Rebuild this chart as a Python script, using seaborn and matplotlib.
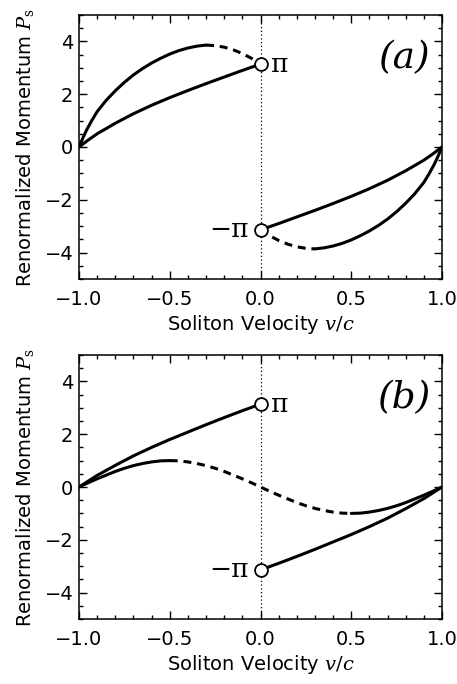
import matplotlib
matplotlib.use("Agg")
import matplotlib.pyplot as plt
import pandas as pd
import seaborn as sns
from matplotlib.ticker import MultipleLocator

# ---- data (v/c, P_s) ----
# panel (a)
a_line_left_v = [-1.0, -0.95, -0.9, -0.8, -0.7, -0.6, -0.5, -0.4, -0.3, -0.2, -0.1, 0.0]
a_line_left_p = [0.0, 0.26, 0.5, 0.9, 1.26, 1.58, 1.87, 2.14, 2.4, 2.65, 2.9, 3.14]
a_arc_left_v = [-1.0, -0.98, -0.96, -0.93, -0.9, -0.85, -0.8, -0.75, -0.7, -0.65, -0.6,
                -0.55, -0.5, -0.45, -0.4, -0.35, -0.3]
a_arc_left_p = [0.0, 0.32, 0.62, 1.0, 1.34, 1.77, 2.13, 2.45, 2.73, 2.97, 3.18,
                3.36, 3.52, 3.65, 3.75, 3.82, 3.86]
a_dash_left_v = [-0.3, -0.25, -0.2, -0.15, -0.1, -0.05, 0.0]
a_dash_left_p = [3.86, 3.84, 3.78, 3.68, 3.54, 3.36, 3.14]

a_line_right_v = [0.0, 0.1, 0.2, 0.3, 0.4, 0.5, 0.6, 0.7, 0.8, 0.9, 0.95, 1.0]
a_line_right_p = [-3.14, -2.9, -2.65, -2.4, -2.14, -1.87, -1.58, -1.26, -0.9, -0.5, -0.26, 0.0]
a_arc_right_v = [0.3, 0.35, 0.4, 0.45, 0.5, 0.55, 0.6, 0.65, 0.7, 0.75,
                 0.8, 0.85, 0.9, 0.93, 0.96, 0.98, 1.0]
a_arc_right_p = [-3.86, -3.82, -3.75, -3.65, -3.52, -3.36, -3.18, -2.97, -2.73, -2.45,
                 -2.13, -1.77, -1.34, -1.0, -0.62, -0.32, 0.0]
a_dash_right_v = [0.0, 0.05, 0.1, 0.15, 0.2, 0.25, 0.3]
a_dash_right_p = [-3.14, -3.36, -3.54, -3.68, -3.78, -3.84, -3.86]

# panel (b)
b_line_left_v = a_line_left_v
b_line_left_p = [0.0, 0.22, 0.44, 0.82, 1.18, 1.5, 1.8, 2.08, 2.36, 2.63, 2.89, 3.14]
b_line_right_v = a_line_right_v
b_line_right_p = [-3.14, -2.89, -2.63, -2.36, -2.08, -1.8, -1.5, -1.18, -0.82, -0.44, -0.22, 0.0]
b_wave_left_v = [-1.0, -0.95, -0.9, -0.85, -0.8, -0.75, -0.7, -0.65, -0.6, -0.55, -0.5]
b_wave_left_p = [0.0, 0.16, 0.31, 0.45, 0.59, 0.71, 0.81, 0.89, 0.95, 0.99, 1.0]
b_wave_mid_v = [-0.5, -0.45, -0.4, -0.35, -0.3, -0.25, -0.2, -0.15, -0.1, -0.05, 0.0,
                0.05, 0.1, 0.15, 0.2, 0.25, 0.3, 0.35, 0.4, 0.45, 0.5]
b_wave_mid_p = [1.0, 0.99, 0.95, 0.89, 0.81, 0.71, 0.59, 0.45, 0.31, 0.16, 0.0,
                -0.16, -0.31, -0.45, -0.59, -0.71, -0.81, -0.89, -0.95, -0.99, -1.0]
b_wave_right_v = [0.5, 0.55, 0.6, 0.65, 0.7, 0.75, 0.8, 0.85, 0.9, 0.95, 1.0]
b_wave_right_p = [-1.0, -0.99, -0.95, -0.89, -0.81, -0.71, -0.59, -0.45, -0.31, -0.16, 0.0]

end_v = [0.0, 0.0]
end_p = [3.14, -3.14]

x_ticks = [-1.0, -0.5, 0.0, 0.5, 1.0]
x_tick_labels = ["\u22121.0", "\u22120.5", "0.0", "0.5", "1.0"]
y_ticks = [-4, -2, 0, 2, 4]
y_tick_labels = ["\u22124", "\u22122", "0", "2", "4"]

sns.set_style("ticks")
plt.rcParams["font.family"] = ["DejaVu Sans"]
plt.rcParams["mathtext.fontset"] = "dejavuserif"
plt.rcParams["text.color"] = "black"
plt.rcParams["axes.labelcolor"] = "black"


def draw_segment(ax, v, p, dashed=False):
    df = pd.DataFrame({"v": v, "p": p})
    sns.lineplot(data=df, x="v", y="p", ax=ax, color="black", lw=2.2,
                 sort=False, estimator=None,
                 linestyle=(0, (2.6, 1.9)) if dashed else "-")


def style_axes(ax, tag):
    ax.axvline(0, color="black", lw=0.9, ls=(0, (1, 2)), zorder=1)
    pts = pd.DataFrame({"v": end_v, "p": end_p})
    sns.scatterplot(data=pts, x="v", y="p", ax=ax, s=85, color="white",
                    edgecolor="black", linewidth=1.3, zorder=5)
    ax.text(0.06, 3.14, "\u03c0", fontsize=19, family="DejaVu Serif",
            ha="left", va="center")
    ax.text(-0.065, -3.14, "\u2212\u03c0", fontsize=19, family="DejaVu Serif",
            ha="right", va="center")
    ax.text(0.79, 3.35, tag, fontsize=27, family="DejaVu Serif",
            style="italic", ha="center", va="center")
    ax.set_xlim(-1.0, 1.0)
    ax.set_ylim(-5, 5)
    ax.set_xticks(x_ticks)
    ax.set_xticklabels(x_tick_labels)
    ax.set_yticks(y_ticks)
    ax.set_yticklabels(y_tick_labels)
    ax.xaxis.set_minor_locator(MultipleLocator(0.1))
    ax.yaxis.set_minor_locator(MultipleLocator(0.5))
    ax.tick_params(which="both", direction="in", top=True, right=True,
                   labelsize=14, width=1.0, colors="black")
    ax.tick_params(which="major", length=5.5)
    ax.tick_params(which="minor", length=2.8)
    ax.tick_params(axis="x", which="major", pad=8)
    ax.tick_params(axis="y", which="major", pad=4)
    for s in ax.spines.values():
        s.set_linewidth(1.1)
        s.set_color("black")
    ax.set_xlabel(r"Soliton Velocity $v/c$", fontsize=14, labelpad=3)
    ax.set_ylabel(r"Renormalized Momentum $P_{\mathrm{s}}$", fontsize=14, labelpad=6)


fig = plt.figure(figsize=(4.57, 6.84), dpi=100)
ax_a = fig.add_axes([0.1729, 0.5921, 0.7943, 0.386])
ax_b = fig.add_axes([0.1729, 0.0950, 0.7943, 0.386])

draw_segment(ax_a, a_line_left_v, a_line_left_p)
draw_segment(ax_a, a_arc_left_v, a_arc_left_p)
draw_segment(ax_a, a_dash_left_v, a_dash_left_p, dashed=True)
draw_segment(ax_a, a_line_right_v, a_line_right_p)
draw_segment(ax_a, a_arc_right_v, a_arc_right_p)
draw_segment(ax_a, a_dash_right_v, a_dash_right_p, dashed=True)
style_axes(ax_a, "(a)")

draw_segment(ax_b, b_line_left_v, b_line_left_p)
draw_segment(ax_b, b_line_right_v, b_line_right_p)
draw_segment(ax_b, b_wave_left_v, b_wave_left_p)
draw_segment(ax_b, b_wave_mid_v, b_wave_mid_p, dashed=True)
draw_segment(ax_b, b_wave_right_v, b_wave_right_p)
style_axes(ax_b, "(b)")

fig.savefig("out.png", dpi=100)
